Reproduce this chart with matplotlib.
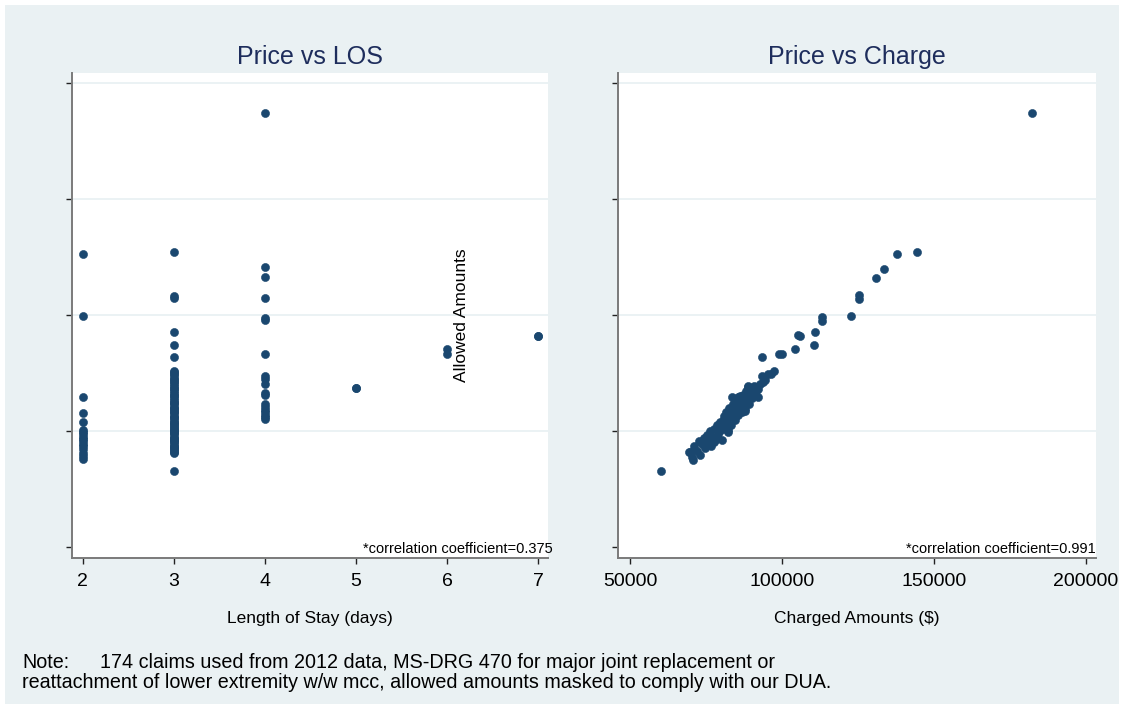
import numpy as np
import matplotlib
matplotlib.use("Agg")
import matplotlib.pyplot as plt
from matplotlib.patches import Rectangle

plt.rcParams['font.family'] = ['Liberation Sans', 'DejaVu Sans']

# allowed amounts (masked scale) by length of stay
allowed_los2 = [35300, 29900, 22900, 21500, 20800, 20100, 19900, 19700, 19500, 19300,
                19100, 18900, 18700, 18400, 18100, 17800, 17600]
allowed_los3 = [35400, 31600, 31500, 28500, 27400, 26400, 25200,
                25100, 24900, 24800, 24600, 24500, 24300, 24200, 24000, 23900, 23700,
                23600, 23400, 23300, 23100, 23000, 22800, 22700, 22500, 22400, 22300,
                22100, 22000, 21900, 21700, 21600, 21500, 21300, 21200, 21100, 20900,
                20800, 20700, 20600, 20400, 20300, 20200, 20100, 20000, 19900, 19800,
                19700, 19500, 19400, 19300, 19200, 19100, 19000, 18900, 18700, 18600,
                18500, 18400, 18300, 18200, 18100, 16500]
allowed_los4 = [47400, 34100, 33300, 31500, 29700, 29600, 26600, 24700, 24500, 24000,
                23300, 23100, 22300, 22100, 21800, 21600, 21400, 21200, 21000]
allowed_los5 = [23700, 23700]
allowed_los6 = [27100, 26600]
allowed_los7 = [28200, 28200]

# charged vs allowed
charged = [60300, 182200, 144600, 138000, 133700, 131100, 125400, 125400, 122800,
           113100, 113100, 111000, 110700, 106000, 105300, 104300, 99200, 100000,
           93400, 97400, 95400, 96400, 94400, 93800, 93500, 92800, 92100, 91500,
           90800, 90200, 89800, 89500, 89200, 88800, 88500, 88200, 87900, 87500,
           87200, 86900, 86500, 86200, 85600, 85200, 84900, 84600, 84200, 83900,
           83200, 82900, 82600, 82300, 81900, 81600, 81300, 80900, 80300, 80000,
           79600, 79000, 78600, 78000, 77700, 77000, 76700, 76300, 75700, 75300,
           74700, 74400, 73700, 73000, 72700, 72100, 71100, 70400, 69800,
           83500, 88900, 92000, 87900, 82400, 78500, 70800, 69500,
           80000, 83000, 86000, 77500, 84500, 81000, 85500, 79200, 74000, 90500]
allowed_chg = [16500, 47400, 35400, 35300, 34000, 33200, 31700, 31400, 29900,
               29800, 29500, 28500, 27400, 28200, 28300, 27100, 26600, 26600,
               26400, 25200, 24900, 24900, 24400, 24200, 24700, 24000, 23600, 23400,
               23900, 22800, 23600, 23200, 22300, 23900, 22700, 23400, 21900, 22600,
               23100, 21600, 22300, 23000, 21400, 22000, 22700, 20900, 21600, 22300,
               20500, 21300, 22000, 19900, 20900, 21600, 20300, 21000, 19200, 20100,
               20800, 19700, 20500, 19200, 20200, 19500, 18700, 20000, 19000, 19600,
               18500, 19400, 18900, 17900, 19100, 18300, 18700, 17700, 18200,
               22900, 23800, 22900, 21700, 20100, 19500, 17500, 18200,
               20700, 21900, 22600, 19000, 21200, 21300, 22900, 20300, 19100, 23300]

y_ticks = [10000, 20000, 30000, 40000, 50000]
los_ticks = [2, 3, 4, 5, 6, 7]
chg_ticks = [50000, 100000, 150000, 200000]

bg = '#EAF1F3'
dot = '#1A476F'
navy = '#1E2D5C'

fig = plt.figure(figsize=(11.24, 7.09), dpi=100, facecolor='white')
fig.patches.append(Rectangle((5 / 1124, 5 / 709), 1114 / 1124, 699 / 709,
                             transform=fig.transFigure, facecolor=bg,
                             edgecolor='none', zorder=-1))

ax1 = fig.add_axes([0.0638, 0.2130, 0.4237, 0.6845])
ax2 = fig.add_axes([0.5501, 0.2130, 0.4250, 0.6845])

los_x = [2] * len(allowed_los2) + [3] * len(allowed_los3) + [4] * len(allowed_los4) \
    + [5] * len(allowed_los5) + [6] * len(allowed_los6) + [7] * len(allowed_los7)
los_y = allowed_los2 + allowed_los3 + allowed_los4 + allowed_los5 + allowed_los6 + allowed_los7

for ax in (ax1, ax2):
    ax.set_facecolor('white')
    for yt in y_ticks[1:]:
        ax.axhline(yt, color='#E8F0F2', lw=1.2, zorder=0)
    ax.set_ylim(9025, 50915)
    ax.set_yticks(y_ticks)
    ax.set_yticklabels([])
    ax.spines['top'].set_visible(False)
    ax.spines['right'].set_visible(False)
    ax.spines['left'].set_color('#7a7a7a')
    ax.spines['bottom'].set_color('#7a7a7a')
    ax.spines['left'].set_linewidth(1.4)
    ax.spines['bottom'].set_linewidth(1.4)
    ax.tick_params(direction='out', length=4, width=1, color='#222222',
                   labelsize=14, pad=7)

ax1.scatter(los_x, los_y, s=34, color=dot, edgecolors=dot, linewidths=0.4, zorder=3)
ax1.set_xlim(1.879, 7.106)
ax1.set_xticks(los_ticks)
ax1.set_xlabel('Length of Stay (days)', fontsize=12.5, labelpad=15)
ax1.set_title('Price vs LOS', fontsize=18, color=navy, pad=6)
ax1.text(1.01, 0.005, '*correlation coefficient=0.375', transform=ax1.transAxes,
         ha='right', va='bottom', fontsize=10.5)
ax1.text(0.818, 0.5, 'Allowed Amounts', transform=ax1.transAxes, rotation=90,
         ha='center', va='center', fontsize=12.5)

ax2.scatter(charged, allowed_chg, s=34, color=dot, edgecolors=dot, linewidths=0.4, zorder=3)
ax2.set_xlim(46150, 203390)
ax2.set_xticks(chg_ticks)
ax2.set_xticklabels([str(t) for t in chg_ticks])
ax2.set_xlabel('Charged Amounts ($)', fontsize=12.5, labelpad=15)
ax2.set_title('Price vs Charge', fontsize=18, color=navy, pad=6)
ax2.text(1.0, 0.005, '*correlation coefficient=0.991', transform=ax2.transAxes,
         ha='right', va='bottom', fontsize=10.5)

fig.text(22 / 1124, 1 - 662 / 709, 'Note:', fontsize=14.2, va='center')
fig.text(100 / 1124, 1 - 662 / 709,
         '174 claims used from 2012 data, MS-DRG 470 for major joint replacement or',
         fontsize=14.2, va='center')
fig.text(22 / 1124, 1 - 682 / 709,
         'reattachment of lower extremity w/w mcc, allowed amounts masked to comply with our DUA.',
         fontsize=14.2, va='center')

fig.savefig('out.png', dpi=100, facecolor=fig.get_facecolor())
